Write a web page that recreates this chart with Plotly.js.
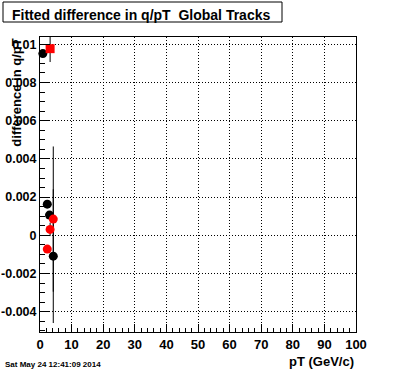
<!DOCTYPE html>
<html>
<head>
<meta charset="utf-8">
<script src="https://cdn.plot.ly/plotly-3.0.1.min.js"></script>
<style>html,body{margin:0;padding:0;background:#fff;}#chart{width:396px;height:372px;}</style>
</head>
<body>
<div id="chart"></div>
<script>
// Data
const blackX = [0.9, 2.3, 3.0, 4.2];
const blackY = [0.00951, 0.00163, 0.00106, -0.00109];
const blackErr = [0, 0, 0, 0.0035];

const redX = [3.2, 4.2, 3.2, 2.3];
const redY = [0.00977, 0.00085, 0.00031, -0.00072];
const redErr = [0.0007, 0.0038, 0.00035, 0];
const redSymbols = ['square', 'circle', 'circle', 'circle'];

const yTickVals = [-0.004, -0.002, 0, 0.002, 0.004, 0.006, 0.008, 0.01];
const yTickText = ['-0.004', '-0.002', '0', '0.002', '0.004', '0.006', '0.008', '0.01'];
const xTickVals = [0, 10, 20, 30, 40, 50, 60, 70, 80, 90, 100];
const xTickText = ['0', '10', '20', '30', '40', '50', '60', '70', '80', '90', '100'];

const titleText = 'Fitted difference in q/pT  Global Tracks';
const xTitle = 'pT (GeV/c)';
const yTitle = 'difference in q/pT';
const dateText = 'Sat May 24 12:41:09 2014';

const F = 'Liberation Sans, Arial, Helvetica, sans-serif';

const traces = [
  {
    x: blackX, y: blackY, type: 'scatter', mode: 'markers',
    marker: {color: '#000', size: 9, symbol: 'circle'},
    error_y: {type: 'data', array: blackErr, visible: true, color: '#000', thickness: 1, width: 0},
    cliponaxis: false, showlegend: false, hoverinfo: 'none'
  },
  {
    x: redX, y: redY, type: 'scatter', mode: 'markers',
    marker: {color: '#ff0000', size: 9, symbol: redSymbols},
    error_y: {type: 'data', array: redErr, visible: true, color: '#000', thickness: 1, width: 0},
    cliponaxis: false, showlegend: false, hoverinfo: 'none'
  }
];

const layout = {
  width: 396, height: 372,
  margin: {l: 40, r: 40, t: 37, b: 40, pad: 0},
  paper_bgcolor: '#fff', plot_bgcolor: '#fff',
  font: {family: F, color: '#000', size: 12},
  xaxis: {
    range: [0, 100], tickvals: xTickVals, ticktext: xTickText,
    ticks: 'inside', ticklen: 8, tickwidth: 1, tickcolor: '#000',
    minor: {dtick: 2, tick0: 0, ticks: 'inside', ticklen: 4, tickcolor: '#000', showgrid: false},
    showline: true, mirror: true, linecolor: '#000', linewidth: 1,
    showgrid: true, gridcolor: '#000', griddash: '1px,2px', gridwidth: 1,
    zeroline: false,
    tickfont: {family: F, size: 13, color: '#000', weight: 'bold'}
  },
  yaxis: {
    range: [-0.00506, 0.01038], tickvals: yTickVals, ticktext: yTickText,
    ticks: 'inside', ticklen: 10, tickwidth: 1, tickcolor: '#000',
    minor: {dtick: 0.0005, tick0: 0, ticks: 'inside', ticklen: 5, tickcolor: '#000', showgrid: false},
    showline: true, mirror: true, linecolor: '#000', linewidth: 1,
    showgrid: true, gridcolor: '#000', griddash: '1px,2px', gridwidth: 1,
    zeroline: false,
    tickfont: {family: F, size: 12.5, color: '#000', weight: 'bold'}
  },
  shapes: [
    {type: 'rect', xref: 'paper', yref: 'paper', xsizemode: 'pixel', ysizemode: 'pixel',
     xanchor: 0, yanchor: 1, x0: -37, x1: 242, y0: 35, y1: 15,
     line: {color: '#000', width: 1}, fillcolor: 'rgba(0,0,0,0)'}
  ],
  annotations: [
    {text: '<b>' + titleText + '</b>', xref: 'paper', yref: 'paper', x: -0.095, y: 1.075,
     xanchor: 'left', yanchor: 'middle', showarrow: false,
     font: {family: F, size: 14, color: '#000'}},
    {text: '<b>' + yTitle + '</b>', xref: 'paper', yref: 'paper', x: -0.077, y: 1.0,
     xanchor: 'center', yanchor: 'top', textangle: -90, showarrow: false,
     font: {family: F, size: 13, color: '#000'}},
    {text: '<b>' + xTitle + '</b>', xref: 'paper', yref: 'paper', x: 1.0, y: -0.1,
     xanchor: 'right', yanchor: 'middle', showarrow: false,
     font: {family: F, size: 13, color: '#000'}},
    {text: '<b>' + dateText + '</b>', xref: 'paper', yref: 'paper', x: -0.117, y: -0.11,
     xanchor: 'left', yanchor: 'middle', showarrow: false,
     font: {family: F, size: 8, color: '#000'}}
  ]
};

Plotly.newPlot('chart', traces, layout, {staticPlot: true, displayModeBar: false});
</script>
</body>
</html>
